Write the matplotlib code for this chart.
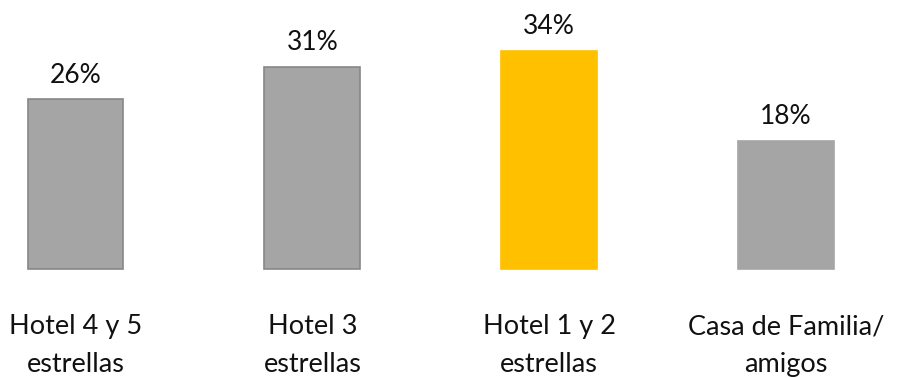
import matplotlib.pyplot as plt

categories = ['Hotel 4 y 5\nestrellas', 'Hotel 3\nestrellas', 'Hotel 1 y 2\nestrellas', 'Casa de Familia/\namigos']
values = [26, 31, 33.4, 19.6]          # bar heights as drawn
value_labels = ['26%', '31%', '34%', '18%']
colors = ['#A5A5A5', '#A5A5A5', '#FFC000', '#A5A5A5']
edges = ['#878787', '#878787', '#FFC000', '#A5A5A5']

plt.rcParams['font.family'] = ['Lato', 'DejaVu Sans']

fig = plt.figure(figsize=(8.97, 3.78), dpi=100)
ax = fig.add_axes([0, 0, 1, 1])

x = range(len(categories))
bars = ax.bar(x, values, width=0.405, color=colors, edgecolor=edges, linewidth=1.2)

for b, lab in zip(bars, value_labels):
    ax.annotate(lab, (b.get_x() + b.get_width() / 2, b.get_height()),
                xytext=(0, 12), textcoords='offset points',
                ha='center', va='baseline', fontsize=19, color='#111111')

# x scale: centers at 75.5 px and 786 px; y: zero at 269 px, 6.53 px per unit
ax.set_xlim(-0.319, 3.469)
ax.set_ylim(-109 / 6.53, 269 / 6.53)

for i, cat in enumerate(categories):
    ax.text(i, -45 / 6.53, cat, ha='center', va='top', fontsize=19.5,
            color='#111111', multialignment='center', linespacing=1.65)

ax.axis('off')
fig.savefig('out.png', dpi=100)
